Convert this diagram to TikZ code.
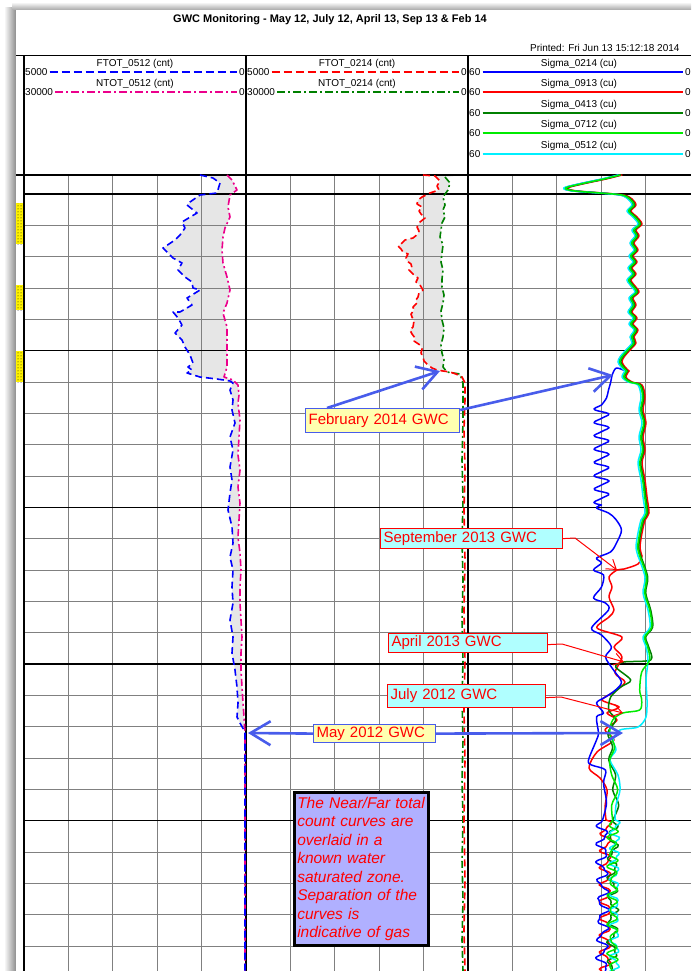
\documentclass[tikz,border=0pt]{standalone}
\usepackage{fontspec}
\setmainfont{Liberation Sans}
\usetikzlibrary{arrows.meta,patterns}
\definecolor{annblue}{RGB}{72,92,235}
\definecolor{boxyellow}{RGB}{255,255,176}
\definecolor{boxcyan}{RGB}{176,255,255}
\definecolor{lavbox}{RGB}{176,176,255}
\definecolor{fillgray}{RGB}{230,230,230}
\definecolor{dkgreen}{RGB}{0,128,0}
\definecolor{limec}{RGB}{0,235,0}
\definecolor{cyanc}{RGB}{0,240,255}
\tikzset{
  gridthin/.style={draw=black!50, line width=0.8pt},
  gridthick/.style={draw=black, line width=1.3pt},
  trackline/.style={draw=black, line width=1.3pt},
  hdr/.style={font=\fontsize{10}{12}\selectfont, inner sep=0pt},
  curve/.style={line width=1.5pt, line join=round, line cap=round},
  dashcurve/.style={curve, line width=1.6pt, line cap=butt, dash pattern=on 7pt off 4pt},
  dashdotcurve/.style={curve, line width=1.6pt, line cap=butt, dash pattern=on 7pt off 3pt on 2pt off 3pt},
  hdrdash/.style={line width=1.4pt, dash pattern=on 8pt off 4pt, shorten <=2pt, shorten >=2pt},
  hdrdashdot/.style={line width=1.4pt, dash pattern=on 8pt off 3pt on 2pt off 3pt, shorten <=2pt, shorten >=2pt},
  hdrsolid/.style={line width=1.4pt, shorten <=2pt, shorten >=2pt},
  annarrow/.style={draw=annblue, line width=2.6pt, -{Straight Barb[length=20pt,width=24pt]}},
  redarrow/.style={draw=red, line width=1pt, -{Straight Barb[length=9pt,width=12pt]}},
  lblbox/.style={line width=1.2pt, text=red, font=\fontsize{15}{18}\selectfont, anchor=north west, inner xsep=3pt, inner ysep=0pt, align=left},
  bluebox/.style={lblbox, draw=annblue, fill=boxyellow},
  redbox/.style={lblbox, draw=red, fill=boxcyan},
}
\newcommand\sigupper{plot[smooth,tension=0.5] coordinates {(620,175) (604,179) (585,183) (568,187) (566,189) (575,191) (600,193) (622,195) (630,199) (634,205) (629,211) (635,217) (640,224) (634,230) (637,236) (632,243) (636,250) (631,256) (635,262) (630,268) (634,274) (629,280) (633,286) (637,292) (631,298) (634,305) (630,312) (635,318) (631,324) (636,330) (632,337) (634,343) (628,350) (622,357) (620,362) (623,367) (627,371)}}
\newcommand\sigright{plot[smooth,tension=0.5] coordinates {(627,371) (624,377) (630,382) (640,385) (643,397) (641,410) (644,423) (641,437) (643,450) (640,463) (643,480) (645,497) (647,513) (643,520) (640,533) (638,547) (640,556)}}
\begin{document}
\begin{tikzpicture}[x=1pt,y=-1pt]
\useasboundingbox (0,0) rectangle (691,971);
% page shadow
\shade[left color=white, right color=black!45] (4,8) rectangle (16,971);
\shade[top color=white, bottom color=black!35] (12,2) rectangle (691,10);
\fill[white] (16,10) rectangle (691,971);

% title
\node[font=\bfseries\fontsize{11}{13}\selectfont] (title) at (330,20) {GWC Monitoring - May 12, July 12, April 13, Sep 13 \& Feb 14};
\node[anchor=east, font=\fontsize{10}{12}\selectfont] (printed) at (683,48) {Printed: Fri Jun 13 15:12:18 2014};

% ---------- fills between curves ----------
\fill[fillgray] plot coordinates {(200,175) (213,178) (220,183) (217,193) (200,195) (190,202) (187,205) (197,213) (182,222) (185,228) (180,235) (175,240) (163,248) (167,252) (173,258) (182,263) (178,270) (185,277) (192,282) (193,288) (200,290) (192,295) (187,298) (192,305) (180,312) (173,312) (178,318) (182,325) (175,333) (182,340) (185,347) (190,355) (193,363) (188,367) (192,370) (187,373) (200,377) (217,379) (230,381) (233,383) (230,390) (233,400) (232,410) (235,423) (230,437) (233,450) (230,467) (232,480) (230,493) (228,510) (232,527) (233,543) (230,557) (233,570) (232,587) (233,603) (230,620) (233,637) (232,653) (235,670) (237,687) (238,703) (237,717) (240,723) (245,732)} -- (246,733) -- (246,175) -- cycle;
\fill[white] plot coordinates {(227,175) (232,180) (237,190) (230,195) (228,207) (230,217) (225,228) (223,237) (222,250) (223,263) (227,277) (230,290) (227,303) (223,313) (227,327) (227,340) (227,353) (227,367) (224,377) (233,380) (238,385) (239,395) (238,403) (240,420) (239,437) (238,455) (240,470) (238,487) (240,503) (239,520) (238,537) (240,553) (241,570) (240,587) (240,603) (241,620) (242,637) (241,653) (241,670) (242,687) (243,703) (244,717) (245,733)} -- (246,733) -- (246,175) -- cycle;
\fill[fillgray] plot coordinates {(423,175) (435,176) (440,181) (437,186) (439,190) (430,193) (422,197) (418,200) (417,204) (422,207) (419,211) (421,214) (425,218) (420,222) (417,227) (419,231) (418,234) (413,238) (405,240) (402,243) (398,246) (401,249) (403,252) (408,254) (406,258) (407,261) (411,264) (412,268) (409,270) (413,274) (418,278) (416,282) (420,285) (423,290) (419,293) (418,297) (416,300) (417,303) (413,307) (414,310) (411,314) (412,317) (414,321) (413,327) (410,330) (412,334) (415,338) (414,341) (420,345) (422,349) (421,353) (423,357) (424,361) (427,364) (432,368) (437,370) (443,371) (450,372) (456,374) (462,377) (463,383)} -- (467,383) -- (467,175) -- cycle;
\fill[white] plot coordinates {(445,177) (450,183) (448,190) (443,197) (445,205) (443,210) (445,217) (442,223) (441,230) (440,237) (443,245) (442,253) (441,262) (443,270) (442,279) (442,287) (444,295) (443,303) (441,311) (442,320) (444,328) (443,337) (441,345) (442,353) (444,360) (443,367) (447,372) (460,374) (463,383)} -- (467,383) -- (467,175) -- cycle;

% ---------- grid ----------
\foreach \gx in {68.4,112.8,157.2,201.6,290.4,334.8,379.2,423.6,512.4,556.8,601.2,645.6}
  \draw[gridthin] (\gx,175) -- (\gx,971);
\foreach \gy in {225.3,256.7,288,319.3,382,413.3,444.7,476,538.7,570,601.3,632.7,695.3,726.7,758,789.3,852,883.3,914.7,946}
  \draw[gridthin] (24,\gy) -- (691,\gy);
\foreach \gy in {194,350.7,507.3,664,820.7}
  \draw[gridthick] (24,\gy) -- (691,\gy);
\draw[line width=1pt] (16,56) -- (691,56);
\draw[gridthick] (16,175) -- (691,175);
\foreach \tx in {24,246,468}
  \draw[trackline] (\tx,56) -- (\tx,971);

% depth markers
\foreach \ya/\yb in {203/244,285/310,351/382}{
  \fill[yellow] (16,\ya) rectangle (23,\yb);
  \fill[pattern=dots, pattern color=black] (16,\ya) rectangle (23,\yb);
}

% ---------- header ----------
\node[hdr] (h1a) at (135,64) {FTOT\_0512 (cnt)};
\node[hdr, anchor=west] (h1al) at (25,72) {5000};
\node[hdr, anchor=east] (h1ar) at (245,72) {0};
\draw[hdrdash, blue] (h1al.east) -- (h1ar.west);
\node[hdr] (h1b) at (135,84) {NTOT\_0512 (cnt)};
\node[hdr, anchor=west] (h1bl) at (25,92) {30000};
\node[hdr, anchor=east] (h1br) at (245,92) {0};
\draw[hdrdashdot, magenta] (h1bl.east) -- (h1br.west);

\node[hdr] (h2a) at (357,64) {FTOT\_0214 (cnt)};
\node[hdr, anchor=west] (h2al) at (247,72) {5000};
\node[hdr, anchor=east] (h2ar) at (467,72) {0};
\draw[hdrdash, red] (h2al.east) -- (h2ar.west);
\node[hdr] (h2b) at (357,84) {NTOT\_0214 (cnt)};
\node[hdr, anchor=west] (h2bl) at (247,92) {30000};
\node[hdr, anchor=east] (h2br) at (467,92) {0};
\draw[hdrdashdot, dkgreen] (h2bl.east) -- (h2br.west);

\foreach \lab/\col/\ly [count=\i] in {Sigma\_0214 (cu)/blue/72, Sigma\_0913 (cu)/red/92, Sigma\_0413 (cu)/dkgreen/113, Sigma\_0712 (cu)/limec/133, Sigma\_0512 (cu)/cyanc/154}{
  \node[hdr] (s\i) at (579,\ly-8.5) {\lab};
  \node[hdr, anchor=west] (s\i l) at (469,\ly) {60};
  \node[hdr, anchor=east] (s\i r) at (691,\ly) {0};
  \draw[hdrsolid, draw=\col] (s\i l.east) -- (s\i r.west);
}

% ---------- track 1 curves ----------
\draw[dashdotcurve, magenta] plot coordinates {(227,175) (232,180) (237,190) (230,195) (228,207) (230,217) (225,228) (223,237) (222,250) (223,263) (227,277) (230,290) (227,303) (223,313) (227,327) (227,340) (227,353) (227,367) (224,377) (233,380) (238,385) (239,395) (238,403) (240,420) (239,437) (238,455) (240,470) (238,487) (240,503) (239,520) (238,537) (240,553) (241,570) (240,587) (240,603) (241,620) (242,637) (241,653) (241,670) (242,687) (243,703) (244,717) (245,733) (245,971)};
\draw[dashcurve, blue] plot coordinates {(200,175) (213,178) (220,183) (217,193) (200,195) (190,202) (187,205) (197,213) (182,222) (185,228) (180,235) (175,240) (163,248) (167,252) (173,258) (182,263) (178,270) (185,277) (192,282) (193,288) (200,290) (192,295) (187,298) (192,305) (180,312) (173,312) (178,318) (182,325) (175,333) (182,340) (185,347) (190,355) (193,363) (188,367) (192,370) (187,373) (200,377) (217,379) (230,381) (233,383) (230,390) (233,400) (232,410) (235,423) (230,437) (233,450) (230,467) (232,480) (230,493) (228,510) (232,527) (233,543) (230,557) (233,570) (232,587) (233,603) (230,620) (233,637) (232,653) (235,670) (237,687) (238,703) (237,717) (240,723) (245,732) (245,971)};

% ---------- track 2 curves ----------
\draw[dashdotcurve, dkgreen] plot coordinates {(445,177) (450,183) (448,190) (443,197) (445,205) (443,210) (445,217) (442,223) (441,230) (440,237) (443,245) (442,253) (441,262) (443,270) (442,279) (442,287) (444,295) (443,303) (441,311) (442,320) (444,328) (443,337) (441,345) (442,353) (444,360) (443,367) (447,372) (460,374) (463,383) (463,420) (462,460) (463,500) (462,540) (463,580) (462,620) (463,660) (462,700) (463,740) (462,780) (463,820) (462,860) (463,900) (462,940) (463,971)};
\draw[dashcurve, red] plot coordinates {(423,175) (435,176) (440,181) (437,186) (439,190) (430,193) (422,197) (418,200) (417,204) (422,207) (419,211) (421,214) (425,218) (420,222) (417,227) (419,231) (418,234) (413,238) (405,240) (402,243) (398,246) (401,249) (403,252) (408,254) (406,258) (407,261) (411,264) (412,268) (409,270) (413,274) (418,278) (416,282) (420,285) (423,290) (419,293) (418,297) (416,300) (417,303) (413,307) (414,310) (411,314) (412,317) (414,321) (413,327) (410,330) (412,334) (415,338) (414,341) (420,345) (422,349) (421,353) (423,357) (424,361) (427,364) (432,368) (437,370) (443,371) (450,372) (456,374) (462,377) (465,383) (465,400) (464,430) (465,470) (464,510) (465,560) (464,610) (465,660) (464,710) (465,760) (464,820) (465,880) (464,930) (465,971)};

% ---------- track 3 sigma curves ----------
% Sigma_0913 red
\begin{scope}[xshift=2pt]
\draw[curve, red] \sigupper;
\draw[curve, red] \sigright;
\draw[curve, red] plot[smooth,tension=0.5] coordinates {(640,556) (636,564) (622,569) (615,570) (607,577) (610,587) (607,597) (612,610) (607,617) (595,628) (620,637) (612,647) (620,657) (613,673) (623,682) (612,692) (600,700) (617,707) (605,713) (615,720) (603,730) (612,740) (595,752) (587,768) (598,778) (605,790) (603,807) (604,820)}
  -- plot[domain=820:971, samples=80, smooth] ({604+5*sin((\x-820)*21)+2*sin((\x-820)*43)}, \x);
\end{scope}
% Sigma_0413 dark green
\begin{scope}[xshift=0.7pt]
\draw[curve, dkgreen] \sigupper;
\draw[curve, dkgreen] \sigright;
\draw[curve, dkgreen] plot[smooth,tension=0.5] coordinates {(640,556) (647,577) (645,593) (650,610) (652,627) (645,637) (648,647) (650,660) (623,662) (615,667) (630,680) (620,687) (610,697) (608,710) (615,720) (607,733) (612,747) (608,760) (615,775) (612,790) (618,805) (612,820)}
  -- plot[domain=820:971, samples=80, smooth] ({612+4*sin((\x-820)*17)-2*sin((\x-820)*39)}, \x);
\end{scope}
% Sigma_0214 blue
\begin{scope}[xshift=-1.5pt]
\draw[curve, blue] \sigupper;
\draw[curve, blue] plot[smooth,tension=0.5] coordinates {(627,371) (618,368) (614,374) (612,383) (610,390) (608,398) (603,405)}
  -- plot[domain=405:505, samples=80, smooth] ({603-7*sin((\x-405)*27)+1.5*sin((\x-405)*54)}, \x)
  -- plot[smooth,tension=0.5] coordinates {(603,505) (598,508) (610,513) (617,519) (623,530) (618,543) (612,552) (598,558) (603,563) (595,570) (605,575) (603,587) (595,598) (607,603) (610,610) (593,628) (603,635) (613,647) (607,657) (615,670) (623,682) (617,690) (607,697) (598,703) (605,713) (598,717) (600,733) (598,740) (590,760) (593,765) (607,770) (605,783) (608,803) (604,820)}
  -- plot[domain=820:971, samples=80, smooth] ({604-5*sin((\x-820)*19)+2*sin((\x-820)*41)}, \x);
\end{scope}
% Sigma_0512 cyan
\begin{scope}[xshift=-2pt]
\draw[curve, cyanc] \sigupper;
\draw[curve, cyanc] \sigright;
\draw[curve, cyanc] plot[smooth,tension=0.5] coordinates {(640,556) (647,577) (645,593) (650,610) (652,627) (645,637) (648,647) (650,660) (648,680) (649,700) (648,717) (640,727) (622,730) (615,740) (618,750) (612,760) (620,775) (622,790) (618,805) (617,820)}
  -- plot[domain=820:971, samples=80, smooth] ({617+4*sin((\x-820)*23)+2*sin((\x-820)*47)}, \x);
\end{scope}
% Sigma_0712 lime
\begin{scope}[xshift=-0.3pt]
\draw[curve, limec] \sigupper;
\draw[curve, limec] \sigright;
\draw[curve, limec] plot[smooth,tension=0.5] coordinates {(640,556) (647,577) (645,593) (650,610) (652,627) (645,637) (648,647) (650,660) (642,672) (640,690) (642,700) (640,710) (623,713) (613,720) (610,733) (615,747) (610,760) (612,775) (618,790) (612,805) (613,820)}
  -- plot[domain=820:971, samples=80, smooth] ({613-4*sin((\x-820)*25)+2*sin((\x-820)*37)}, \x);
\end{scope}

% ---------- annotations ----------
\node[bluebox, text width=148pt, minimum height=24pt] (feb) at (305,408) {February 2014 GWC};
\coordinate (febtipA) at (440,371);
\coordinate (febtipB) at (613,375);
\draw[annarrow] ([xshift=22pt]feb.north west) -- (febtipA);
\draw[annarrow] ([yshift=-2pt]feb.north east) -- (febtipB);

\node[redbox, text width=176pt, minimum height=20pt] (sep) at (380,528) {September 2013 GWC};
\coordinate (sepbend) at (575,538);
\coordinate (septip) at (617,570);
\draw[redarrow] (sep.east) -- (sepbend) -- (septip);

\node[redbox, text width=153pt, minimum height=19pt] (apr) at (388,633) {April 2013 GWC};
\coordinate (aprbend) at (562,644);
\coordinate (aprtip) at (624,662);
\draw[redarrow] ([yshift=-1.5pt]apr.east) -- (aprbend) -- (aprtip);

\node[redbox, text width=152pt, minimum height=23pt] (jul) at (387,684) {July 2012 GWC};
\coordinate (julbend) at (561,697);
\coordinate (jultip) at (623,713);
\draw[redarrow] ([yshift=-1.5pt]jul.east) -- (julbend) -- (jultip);

\node[bluebox, text width=116pt, minimum height=18pt] (may) at (313,724) {May 2012 GWC};
\coordinate (maytipL) at (248,733);
\coordinate (maytipR) at (623,733);
\draw[annarrow] (may.west) -- (maytipL);
\draw[annarrow] (may.east) -- (maytipR);

\node[draw=black, line width=2.5pt, fill=lavbox, text=red, anchor=north west, text width=128pt, inner xsep=3pt, inner ysep=3pt, align=left, minimum height=153pt, font=\itshape\fontsize{15.5}{18.5}\selectfont] (note) at (293,791) {The Near/Far total\\count curves are\\overlaid in a\\known water\\saturated zone.\\Separation of the\\curves is\\indicative of gas};
\end{tikzpicture}
\end{document}
